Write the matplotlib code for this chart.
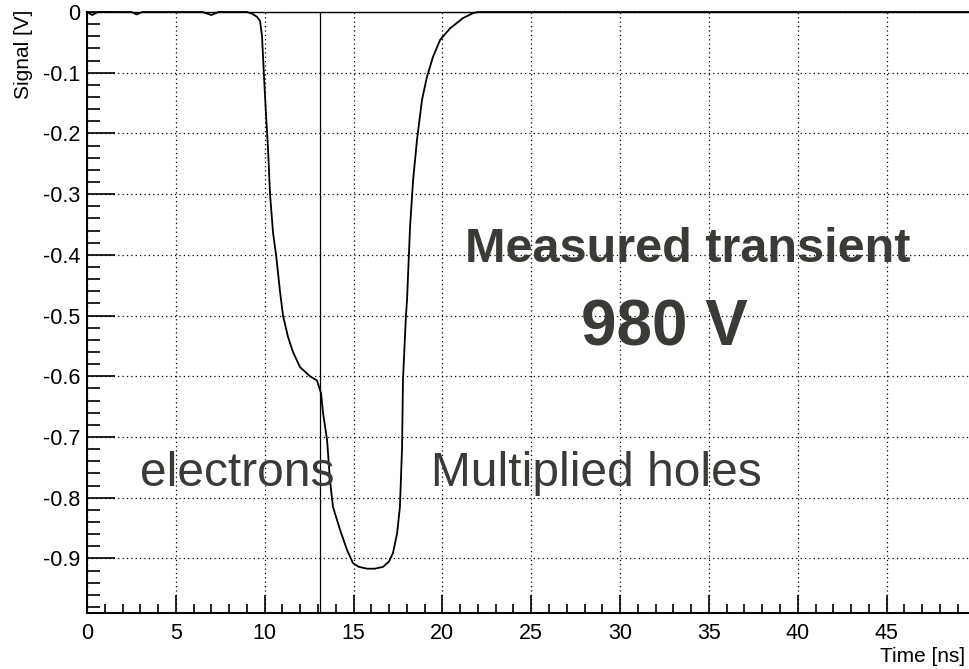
# Measured transient at 980 V - signal vs time

import matplotlib.pyplot as plt
from matplotlib.ticker import MultipleLocator

plt.rcParams['font.family'] = ['Liberation Sans', 'DejaVu Sans']

# Waveform
time_ns = [0, 0.3, 0.6, 2.5, 2.8, 3.1, 4.8, 6.5, 7.0, 7.4, 9.0, 9.3, 9.57, 9.74,
           9.85, 9.95, 10.07, 10.19, 10.30, 10.47, 10.64, 10.86, 11.03, 11.31,
           11.59, 11.99, 12.55, 12.94, 13.17, 13.28, 13.51, 13.67, 13.84, 14.24,
           14.63, 14.97, 15.3, 15.76, 16.2, 16.66, 17.0, 17.22, 17.45, 17.61,
           17.73, 17.78, 17.95, 18.01, 18.18, 18.35, 18.57, 18.85, 19.13, 19.47,
           19.87, 20.43, 21.16, 21.72, 22.0, 50]
signal_v = [0, -0.005, 0, 0, -0.004, 0, 0, 0, -0.005, 0, 0, -0.003, -0.008, -0.015,
            -0.04, -0.1, -0.167, -0.227, -0.30, -0.364, -0.40, -0.46, -0.50, -0.535,
            -0.56, -0.585, -0.60, -0.607, -0.628, -0.66, -0.705, -0.77, -0.815, -0.853,
            -0.886, -0.908, -0.914, -0.917, -0.917, -0.914, -0.905, -0.891, -0.859, -0.815,
            -0.717, -0.607, -0.50, -0.474, -0.354, -0.277, -0.211, -0.145, -0.107, -0.074,
            -0.046, -0.027, -0.010, -0.002, 0, 0]

marker_time = 13.11
text_color = "#3b3a36"

fig = plt.figure(figsize=(9.7, 6.69), dpi=100)
ax = fig.add_axes([87 / 970, 1 - 613 / 669, 888.5 / 970, 601 / 669])

ax.plot(time_ns, signal_v, color="black", lw=1.3, clip_on=False, zorder=3)
ax.axvline(marker_time, color="black", lw=0.9, zorder=2)

ax.set_xlim(0, 50)
ax.set_ylim(-0.99, 0)

ax.xaxis.set_major_locator(MultipleLocator(5))
ax.xaxis.set_minor_locator(MultipleLocator(1))
ax.yaxis.set_major_locator(MultipleLocator(0.1))
ax.yaxis.set_minor_locator(MultipleLocator(0.02))
# the 50 label falls outside the picture
ax.xaxis.set_major_formatter(lambda v, p: "" if v > 47 else f"{v:.0f}")
ax.yaxis.set_major_formatter(lambda v, p: "0" if abs(v) < 1e-9 else f"{v:.1f}")

ax.grid(True, which="major", color="black", linestyle=(0, (1, 2.5)), lw=0.9)

ax.tick_params(axis="both", which="both", direction="in", width=1.2,
               labelsize=15.5, top=False, right=False)
ax.tick_params(axis="x", which="major", length=13, pad=7)
ax.tick_params(axis="x", which="minor", length=6.5)
ax.tick_params(axis="y", which="major", length=20, pad=5)
ax.tick_params(axis="y", which="minor", length=9.5)

for side in ["left", "bottom"]:
    ax.spines[side].set_linewidth(1.5)
ax.spines["top"].set_linewidth(1.0)

# labels
fig.text(0.024, 1 - 10 / 669, "Signal [V]", rotation=90, ha="center", va="top", fontsize=15)
fig.text(880 / 970, 1 - 662 / 669, "Time [ns]", ha="left", va="baseline", fontsize=15)

# annotations
ax.text(33.8, -0.412, "Measured transient", ha="center", va="baseline",
        fontsize=35, fontweight="bold", color=text_color)
ax.text(32.5, -0.549, "980 V", ha="center", va="baseline",
        fontsize=46, fontweight="bold", color=text_color)
ax.text(2.98, -0.781, "electrons", ha="left", va="baseline", fontsize=34.5, color=text_color)
ax.text(19.36, -0.781, "Multiplied holes", ha="left", va="baseline", fontsize=34.5, color=text_color)

plt.savefig("out.png", dpi=100)
plt.close()
